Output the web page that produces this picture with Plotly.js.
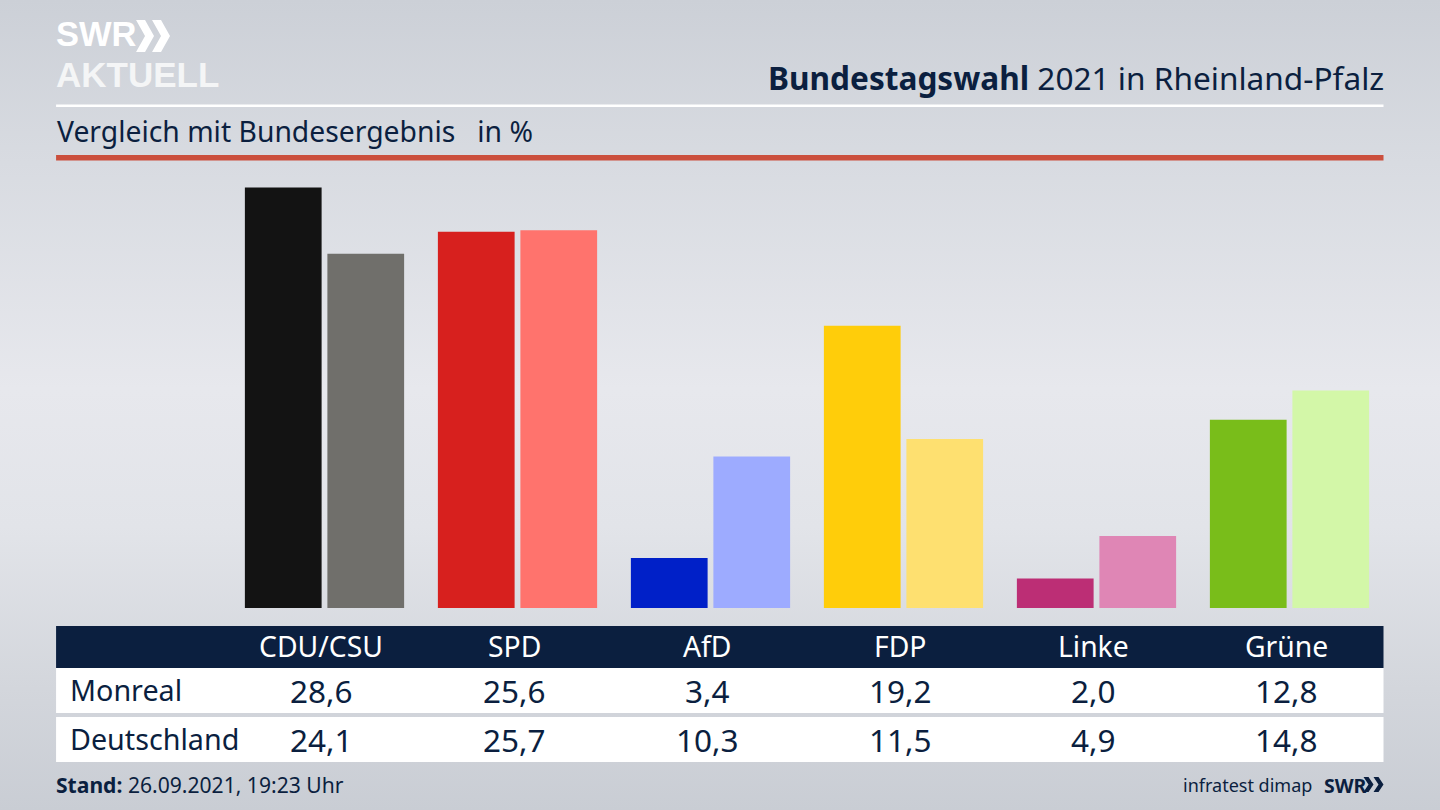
<!DOCTYPE html>
<html><head><meta charset="utf-8">
<script src="https://cdn.plot.ly/plotly-3.0.1.min.js"></script>
<style>
html,body{margin:0;padding:0;width:1440px;height:810px;overflow:hidden}
#c{width:1440px;height:810px;background:linear-gradient(180deg,#ccd0d7 0%,#d8dbe1 20%,#e7e8ed 48%,#e2e4e9 65%,#d3d6dc 85%,#c9cdd4 100%)}
</style></head><body><div id="c"></div>
<script>
const categories=['CDU/CSU','SPD','AfD','FDP','Linke','Grüne'];
const monreal=[28.6,25.6,3.4,19.2,2.0,12.8];
const deutschland=[24.1,25.7,10.3,11.5,4.9,14.8];
const monrealColors=['#131313','#d7201e','#0020c8','#ffcd0a','#bc2e75','#79bd1a'];
const deutschlandColors=['#706f6b','#ff736d','#9dabff','#fee070','#df86b5','#d3f7a8'];
const rowNames=['Monreal','Deutschland'];

const L=228,R=1386.5,T=167,B=608,W=1440,H=810;
const px=x=>(x-L)/(R-L), py=y=>(B-y)/(B-T);
const navy='#0b1f3f', font='"Noto Sans", sans-serif', logo='"Liberation Sans", sans-serif';
const rect=(x0,y0,x1,y1,c)=>({type:'rect',xref:'paper',yref:'paper',x0:px(x0),x1:px(x1),y0:py(y0),y1:py(y1),fillcolor:c,line:{width:0},layer:'below'});
const txt=(x,y,t,size,c,anchor,extra)=>Object.assign({xref:'paper',yref:'paper',x:px(x),y:py(y),text:t,showarrow:false,xanchor:anchor||'left',yanchor:'middle',font:{family:font,size:size,color:c},borderpad:0,borderwidth:0},extra||{});
const chevron=(x,y,w,h,c)=>{const p=(a,b)=>px(a)+','+py(b);
  return {type:'path',xref:'paper',yref:'paper',fillcolor:c,line:{width:0},
  path:'M'+p(x,y)+' L'+p(x+w*.5,y)+' L'+p(x+w,y+h/2)+' L'+p(x+w*.5,y+h)+' L'+p(x,y+h)+' L'+p(x+w*.5,y+h/2)+' Z'};};
const fmt=v=>v.toFixed(1).replace('.',',');
const colX=i=>321.5+193*i;

const shapes=[
 rect(56,104.5,1384,107,'#ffffff'),
 rect(56,155,1384,160.5,'#cb4f3d'),
 rect(56,626,1384,668,navy),
 rect(56,668,1384,713,'#ffffff'),
 rect(56,717,1384,762,'#ffffff'),
 chevron(136,20,18,32,'#ffffff'),chevron(152,20,18,32,'#ffffff'),
 chevron(1364,777,10,15,navy),chevron(1374,777,10,15,navy)
];
const annotations=[
 txt(56,33.5,'<b>SWR</b>',34.5,'#ffffff','left',{font:{family:logo,size:34.5,color:'#ffffff'}}),
 txt(56,74.5,'<b>AKTUELL</b>',35,'#f4f5f6','left',{font:{family:logo,size:35,color:'#f4f5f6'}}),
 txt(1384,78,'<b>Bundestagswahl</b> 2021 in Rheinland-Pfalz',31.6,navy,'right'),
 txt(57,131,'Vergleich mit Bundesergebnis   in %',28.3,navy),
 txt(56,784.5,'<b>Stand:</b> 26.09.2021, 19:23 Uhr',21.1,navy),
 txt(1312,784.5,'infratest dimap',18,navy,'right'),
 txt(1324,785,'<b>SWR</b>',19.5,navy,'left')
];
categories.forEach((c,i)=>{
 annotations.push(txt(colX(i),646,c,28.3,'#ffffff','center'));
 annotations.push(txt(colX(i),690,fmt(monreal[i]),31.5,navy,'center'));
 annotations.push(txt(colX(i),739,fmt(deutschland[i]),31.5,navy,'center'));
});
annotations.push(txt(70,689.5,rowNames[0],28.7,navy));
annotations.push(txt(70,738.5,rowNames[1],28.7,navy));

const traces=[
 {type:'bar',name:rowNames[0],x:categories,y:monreal,marker:{color:monrealColors,line:{width:0}},hoverinfo:'x+y'},
 {type:'bar',name:rowNames[1],x:categories,y:deutschland,marker:{color:deutschlandColors,line:{width:0}},hoverinfo:'x+y'}
];
Plotly.newPlot('c',traces,{
 width:W,height:H,autosize:false,
 margin:{l:L,r:W-R,t:T,b:H-B,pad:0},
 paper_bgcolor:'rgba(0,0,0,0)',plot_bgcolor:'rgba(0,0,0,0)',
 barmode:'group',bargap:0.145,bargroupgap:0.07,showlegend:false,
 xaxis:{type:'category',visible:false,range:[-0.5,5.5],fixedrange:true},
 yaxis:{visible:false,range:[0,30],fixedrange:true},
 shapes:shapes,annotations:annotations
},{displayModeBar:false,staticPlot:true});
</script></body></html>
